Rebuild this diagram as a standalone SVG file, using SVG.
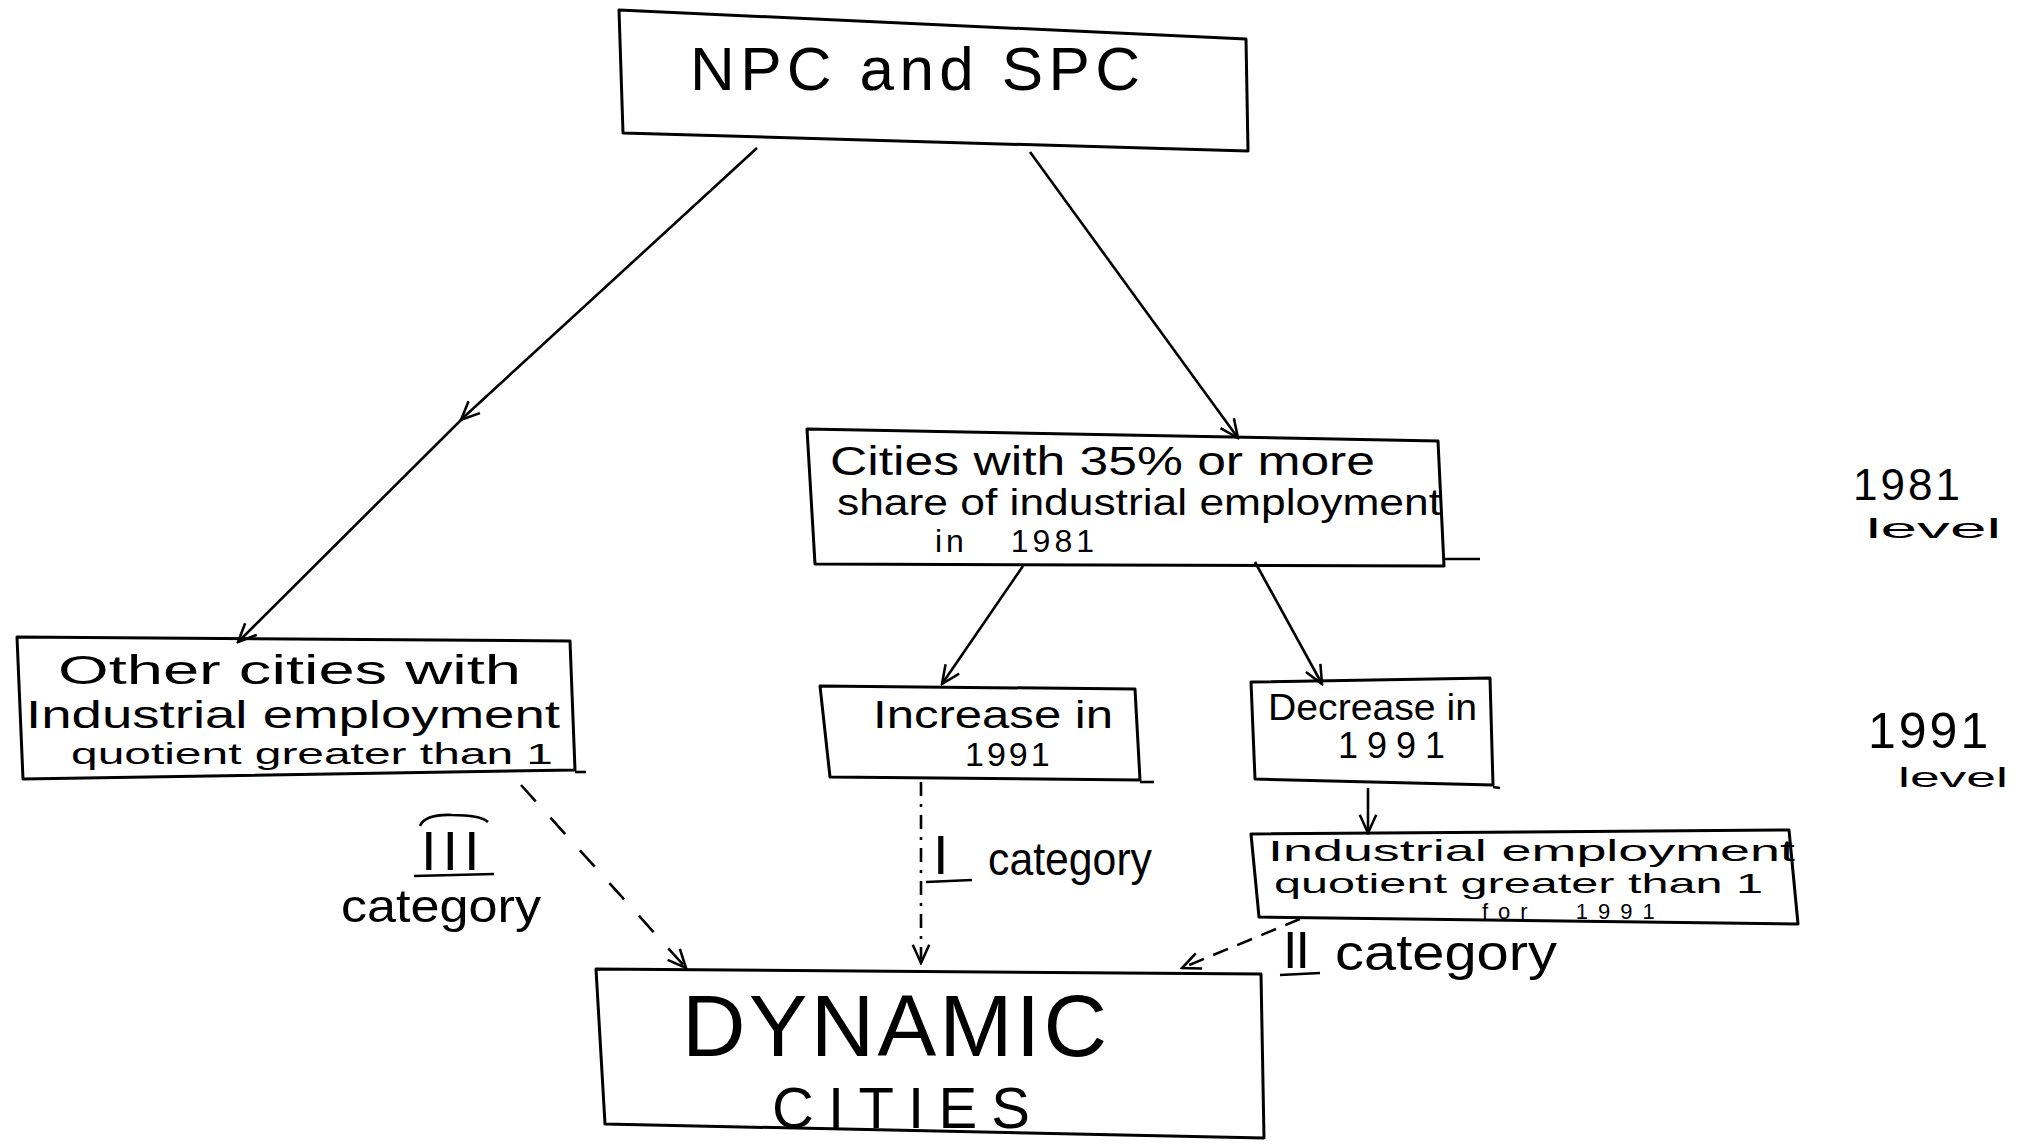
<svg xmlns="http://www.w3.org/2000/svg" width="2018" height="1144" viewBox="0 0 2018 1144">
<defs>
<marker id="arr" viewBox="0 0 12 12" refX="11" refY="6" markerWidth="22" markerHeight="22" markerUnits="userSpaceOnUse" orient="auto">
<path d="M1,1.5 L11,6 L1,10.5" fill="none" stroke="#000" stroke-width="1.4"/>
</marker>
<marker id="arrm" viewBox="0 0 12 12" refX="8" refY="6" markerWidth="22" markerHeight="22" markerUnits="userSpaceOnUse" orient="auto">
<path d="M1,1.5 L11,6 L1,10.5" fill="none" stroke="#000" stroke-width="1.4"/>
</marker>
</defs>
<style>
.box{fill:none;stroke:#000;stroke-width:3;stroke-linejoin:round}
.ln{fill:none;stroke:#000;stroke-width:2.6}
.t{font-family:"Liberation Sans",Arial,sans-serif;fill:#000}
</style>
<rect width="2018" height="1144" fill="#fff"/>

<g id="connectors">
<polyline class="ln" points="757,148 465,416 238,642" marker-mid="url(#arrm)" marker-end="url(#arr)"/>
<line class="ln" x1="1030" y1="152" x2="1238" y2="438" marker-end="url(#arr)"/>
<line class="ln" x1="1023" y1="566" x2="942" y2="684" marker-end="url(#arr)"/>
<line class="ln" x1="1255" y1="562" x2="1322" y2="684" marker-end="url(#arr)"/>
<line class="ln" x1="1368" y1="788" x2="1368" y2="833" marker-end="url(#arr)"/>
<line class="ln" x1="521" y1="785" x2="686" y2="968" stroke-dasharray="22,22" marker-end="url(#arr)"/>
<line class="ln" x1="921" y1="782" x2="921" y2="963" stroke-dasharray="14,8,3,8" marker-end="url(#arr)"/>
<line class="ln" x1="1300" y1="919" x2="1182" y2="968" stroke-dasharray="16,10" marker-end="url(#arr)"/>
</g>

<g id="npc">
<path class="box" d="M619,10 L1246,39 L1248,151 L623,133 Z"/>
<text class="t" x="690" y="90" font-size="62" textLength="450" lengthAdjust="spacing">NPC and SPC</text>
</g>

<g id="cities81">
<path class="box" d="M807,429 L1438,441 L1444,566 L815,564 Z"/>
<line class="ln" x1="1444" y1="559" x2="1480" y2="559"/>
<text class="t" x="830" y="475" font-size="40" textLength="545" lengthAdjust="spacingAndGlyphs">Cities with 35% or more</text>
<text class="t" x="837" y="515" font-size="36" textLength="604" lengthAdjust="spacingAndGlyphs">share of industrial employment</text>
<text class="t" x="935" y="552" font-size="32" word-spacing="30" letter-spacing="4">in 1981</text>
</g>

<g id="other">
<path class="box" d="M17,637 L570,641 L575,770 L23,779 Z"/>
<line class="ln" x1="575" y1="772" x2="586" y2="772"/>
<text class="t" x="58" y="684" font-size="40" textLength="463" lengthAdjust="spacingAndGlyphs">Other cities with</text>
<text class="t" x="26" y="728" font-size="38" textLength="534" lengthAdjust="spacingAndGlyphs">Industrial employment</text>
<text class="t" x="71" y="764" font-size="30" textLength="482" lengthAdjust="spacingAndGlyphs">quotient greater than 1</text>
</g>

<g id="increase">
<path class="box" d="M820,686 L1135,689 L1140,780 L830,777 Z"/>
<line class="ln" x1="1140" y1="782" x2="1154" y2="782"/>
<text class="t" x="873" y="728" font-size="38" textLength="240" lengthAdjust="spacingAndGlyphs">Increase in</text>
<text class="t" x="965" y="766" font-size="34" letter-spacing="3">1991</text>
</g>

<g id="decrease">
<path class="box" d="M1251,682 L1490,678 L1493,785 L1255,779 Z"/>
<line class="ln" x1="1493" y1="787" x2="1500" y2="788"/>
<text class="t" x="1268" y="720" font-size="36" textLength="209" lengthAdjust="spacingAndGlyphs">Decrease in</text>
<text class="t" x="1338" y="758" font-size="36" letter-spacing="9">1991</text>
</g>

<g id="industrial91">
<path class="box" d="M1251,834 L1789,830 L1798,924 L1259,917 Z"/>
<text class="t" x="1268" y="861" font-size="30" textLength="527" lengthAdjust="spacingAndGlyphs">Industrial employment</text>
<text class="t" x="1274" y="893" font-size="28" textLength="489" lengthAdjust="spacingAndGlyphs">quotient greater than 1</text>
<text class="t" x="1482" y="919" font-size="22" word-spacing="22" letter-spacing="10">for 1991</text>
</g>

<g id="dynamic">
<path class="box" d="M596,969 L1261,974 L1264,1138 L605,1124 Z"/>
<text class="t" x="682" y="1056" font-size="88" textLength="425" lengthAdjust="spacing">DYNAMIC</text>
<text class="t" x="772" y="1128" font-size="58" textLength="258" lengthAdjust="spacing">CITIES</text>
</g>

<g id="labels">
<path class="ln" d="M420,826 Q425,814 452,815 Q480,815 488,822"/>
<text class="t" x="421" y="870" font-size="56" letter-spacing="6">III</text>
<line class="ln" x1="414" y1="876" x2="494" y2="874"/>
<text class="t" x="341" y="922" font-size="46" textLength="200" lengthAdjust="spacingAndGlyphs">category</text>
<text class="t" x="933" y="874" font-size="56">I</text>
<line class="ln" x1="926" y1="882" x2="972" y2="880"/>
<text class="t" x="988" y="875" font-size="46" textLength="164" lengthAdjust="spacingAndGlyphs">category</text>
<text class="t" x="1283" y="968" font-size="52" letter-spacing="-2">II</text>
<line class="ln" x1="1280" y1="975" x2="1320" y2="973"/>
<text class="t" x="1335" y="970" font-size="50" textLength="222" lengthAdjust="spacingAndGlyphs">category</text>
<text class="t" x="1853" y="500" font-size="44" letter-spacing="3">1981</text>
<text class="t" x="1866" y="538" font-size="28" textLength="135" lengthAdjust="spacingAndGlyphs">level</text>
<text class="t" x="1868" y="748" font-size="50" letter-spacing="3">1991</text>
<text class="t" x="1898" y="787" font-size="28" textLength="110" lengthAdjust="spacingAndGlyphs">level</text>
</g>
</svg>
